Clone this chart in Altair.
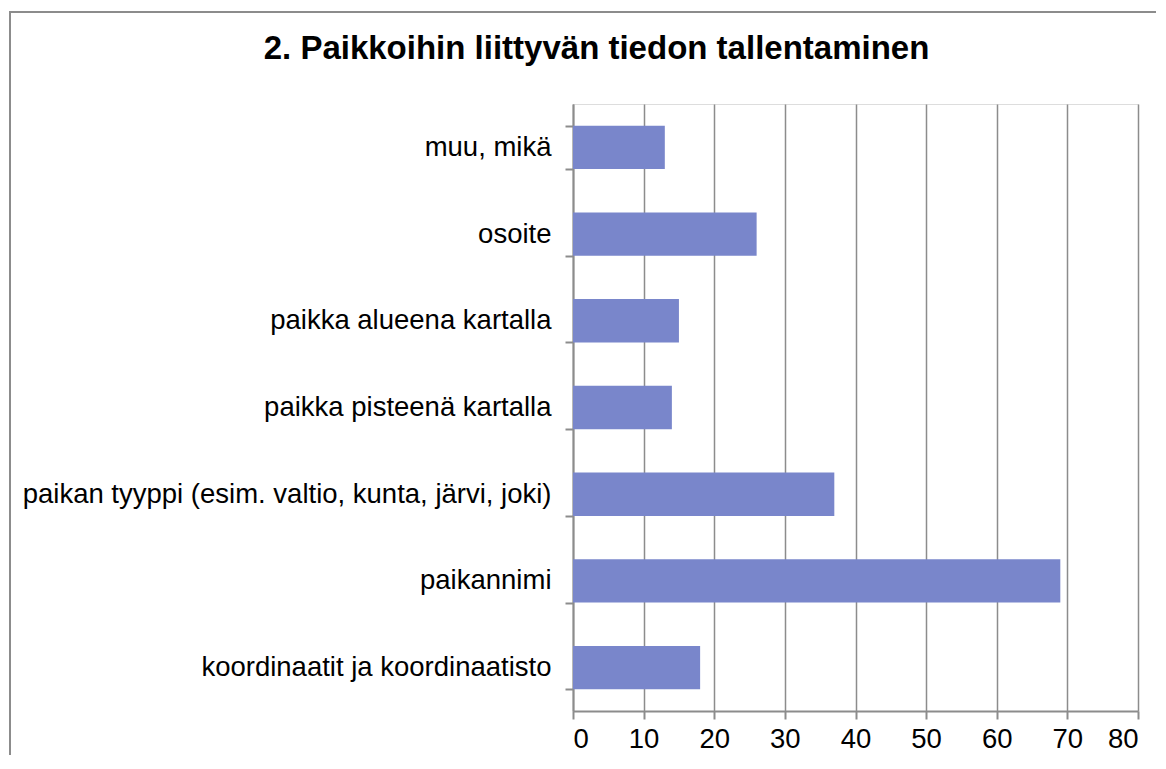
import altair as alt
import pandas as pd

categories = [
    "muu, mikä",
    "osoite",
    "paikka alueena kartalla",
    "paikka pisteenä kartalla",
    "paikan tyyppi (esim. valtio, kunta, järvi, joki)",
    "paikannimi",
    "koordinaatit ja koordinaatisto",
]
values = [13, 26, 15, 14, 37, 69, 18]
x_ticks = [0, 10, 20, 30, 40, 50, 60, 70, 80]

df = pd.DataFrame({"category": categories, "value": values})

FONT = "Liberation Sans"
GRAY = "#8c8c8c"

bars = alt.Chart(df).mark_bar(color="#7986CB").encode(
    x=alt.X(
        "value:Q",
        scale=alt.Scale(domain=[0, 80], nice=False),
        axis=alt.Axis(
            values=x_ticks,
            title=None,
            grid=True,
            gridColor=GRAY,
            gridWidth=1.5,
            domainColor=GRAY,
            domainWidth=2,
            tickColor=GRAY,
            tickWidth=2,
            tickSize=8,
            labelPadding=6,
            labelFont=FONT,
            labelFontSize=27.5,
            labelColor="#000000",
        ),
    ),
    y=alt.Y(
        "category:N",
        sort=categories,
        scale=alt.Scale(paddingInner=0.5, paddingOuter=0.25),
        axis=alt.Axis(
            title=None,
            tickBand="extent",
            grid=False,
            domainColor=GRAY,
            domainWidth=2,
            tickColor=GRAY,
            tickWidth=2,
            tickSize=8,
            labelPadding=14,
            labelFont=FONT,
            labelFontSize=27.5,
            labelColor="#000000",
            labelLimit=600,
        ),
    ),
)

frame = alt.Chart(pd.DataFrame({"f": [0]})).mark_rect(
    fill="transparent", stroke=GRAY, strokeWidth=2, clip=False
).encode(
    x=alt.value(-563),
    x2=alt.value(620),
    y=alt.value(-92),
    y2=alt.value(700),
)

chart = alt.layer(frame, bars).properties(
    width=565,
    height=607,
    autosize=alt.AutoSizeParams(type="none"),
    padding={"left": 565, "top": 96, "right": 18, "bottom": 44},
    title=alt.TitleParams(
        "2. Paikkoihin liittyvän tiedon tallentaminen",
        font=FONT,
        fontSize=33,
        fontWeight="bold",
        color="#000000",
        anchor="middle",
        frame="group",
        dx=-259,
        offset=-55,
    ),
).configure_view(
    stroke=GRAY, strokeWidth=2
).configure(background="white")

chart.save("out.html", embed_options={"renderer": "svg", "actions": False})
